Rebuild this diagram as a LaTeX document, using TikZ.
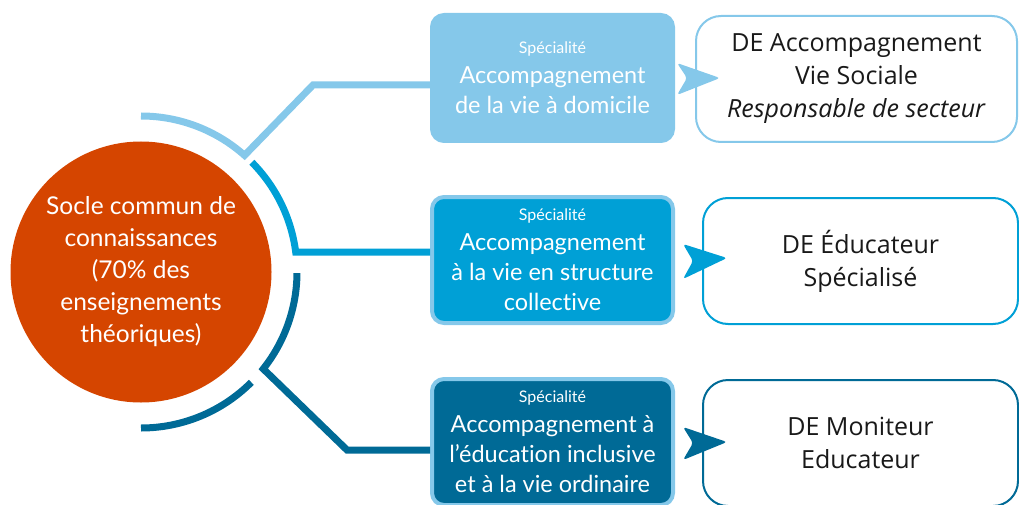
\documentclass[tikz,border=0pt]{standalone}
\usepackage{fontspec}
\setmainfont{Open Sans}
\newfontfamily\latofont[Ligatures=NoCommon]{Lato}
\usetikzlibrary{positioning, calc}
\definecolor{socleorange}{RGB}{213, 69, 0}
\definecolor{lightblue}{RGB}{133, 200, 234}
\definecolor{midblue}{RGB}{0, 160, 214}
\definecolor{darkblue}{RGB}{0, 106, 150}
\definecolor{darktext}{RGB}{25, 25, 25}
\newcommand{\spectag}[1]{{\fontsize{16}{20}\selectfont #1}}

\begin{document}
\begin{tikzpicture}[x=1pt, y=-1pt,
  specbox/.style={rounded corners=12pt, line width=4pt, draw=lightblue,
    minimum width=241pt, minimum height=126pt, text=white, align=center,
    font=\latofont\fontsize{23.5}{30}\selectfont},
  diplbox/.style={rounded corners=25pt, line width=2pt, fill=white,
    minimum height=126pt, align=center, text=darktext,
    font=\fontsize{25}{33}\selectfont},
  ring/.style={line width=7pt}]
  \useasboundingbox (0,0) rectangle (1019,505);

  % centre circle
  \node[circle, fill=socleorange, minimum size=261pt, text=white, align=center,
    font=\latofont\fontsize{24.5}{32}\selectfont] (socle) at (141,272)
    {Socle commun de\\connaissances\\(70\% des\\enseignements\\théoriques)};

  % specialities
  \node[specbox, fill=lightblue] (s1) at (552.5,78)
    {\spectag{Spécialité}\\Accompagnement\\de la vie à domicile};
  \node[specbox, fill=midblue] (s2) at (552.5,260)
    {\spectag{Spécialité}\\Accompagnement\\à la vie en structure\\collective};
  \node[specbox, fill=darkblue] (s3) at (552.5,442)
    {\spectag{Spécialité}\\Accompagnement à\\l’éducation inclusive\\et à la vie ordinaire};

  % diplomas
  \node[diplbox, draw=lightblue, minimum width=321pt] (d1) at (856.5,79)
    {DE Accompagnement\\Vie Sociale\\\textit{Responsable de secteur}};
  \node[diplbox, draw=midblue, minimum width=315pt] (d2) at (860.5,261)
    {DE Éducateur\\Spécialisé};
  \node[diplbox, draw=darkblue, minimum width=315pt] (d3) at (860.5,443)
    {DE Moniteur\\Educateur};

  % ring segments and links
  \draw[ring, lightblue, line join=miter] (socle.center) ++(-90:156)
    arc[start angle=-90, end angle=-48.4, radius=156] -- (313,85) coordinate (k1)
    -- (k1 -| s1.west);
  \draw[ring, midblue] (socle.center) ++(-44.7:156)
    arc[start angle=-44.7, end angle=-7.3, radius=156] coordinate (k2)
    -- (k2 -| s2.west);
  \draw[ring, darkblue, line join=miter] (socle.center) ++(0.4:156)
    arc[start angle=0.4, end angle=38.4, radius=156] -- (347,450) coordinate (k3)
    -- (k3 -| s3.west);
  \draw[ring, darkblue] (socle.center) ++(45:156)
    arc[start angle=45, end angle=90, radius=156];

  % pointers
  \fill[lightblue, rounded corners=3pt] (677,63) -- (720,78) -- (677,95) -- (687,78) -- cycle;
  \fill[midblue, rounded corners=3pt] (683,244) -- (727,258) -- (683,279) -- (693,261) -- cycle;
  \fill[darkblue, rounded corners=3pt] (683,427) -- (727,442) -- (683,460) -- (693,443) -- cycle;
\end{tikzpicture}
\end{document}
